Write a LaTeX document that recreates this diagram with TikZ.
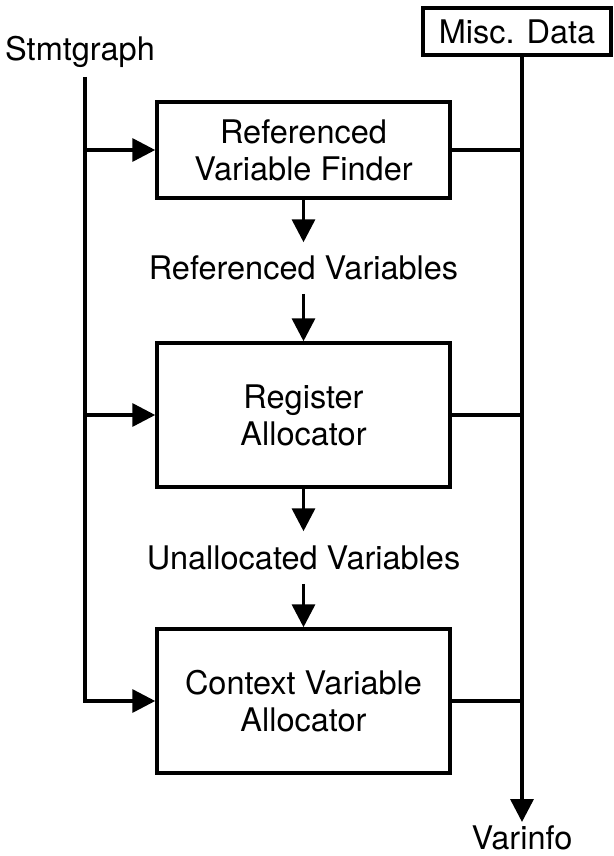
\documentclass[tikz,border=0pt]{standalone}
\usepackage{fontspec}
\setmainfont{TeX Gyre Heros}
\usetikzlibrary{arrows.meta}
\begin{document}
\begin{tikzpicture}[x=1pt,y=-1pt,
  every node/.style={font=\fontsize{32.5}{37}\selectfont},
  box/.style={draw, line width=3.5pt, minimum width=293pt, align=center, inner sep=0pt},
  lbl/.style={inner sep=0pt, text height=23pt, text depth=0pt},
  arr/.style={-{Triangle[length=23pt,width=23pt]}},
  line width=3.5pt]
\useasboundingbox (0,0) rectangle (613,856);
\node[box, minimum width=188pt, minimum height=47pt] (misc) at (517,31.5) {Misc. Data};
\node[lbl] (stmt) at (80,49) {Stmtgraph};
\node[box, minimum height=96pt] (b1) at (303.5,150) {Referenced\\Variable Finder};
\node[lbl, minimum height=48pt] (rv) at (303.5,268) {Referenced Variables};
\node[box, minimum height=144pt] (b2) at (303.5,415) {Register\\Allocator};
\node[lbl, minimum height=49pt] (uv) at (303.5,557.5) {Unallocated Variables};
\node[box, minimum height=144pt] (b3) at (303.5,701) {Context Variable\\Allocator};
\node[lbl] (vi) at (522,838) {Varinfo};
\coordinate (stop) at (85,77);
\coordinate (vtip) at (522,822);
% left feed
\draw[arr] (stop) |- (b3.west);
\draw[arr] (stop |- b1.west) -- (b1.west);
\draw[arr] (stop |- b2.west) -- (b2.west);
% main chain
\draw[arr] (b1.south) -- (rv.north);
\draw[arr] (rv.south) -- (b2.north);
\draw[arr] (b2.south) -- (uv.north);
\draw[arr] (uv.south) -- (b3.north);
% right collector
\draw[arr] (misc.south -| vtip) -- (vtip);
\draw (b1.east) -- (b1.east -| vtip);
\draw (b2.east) -- (b2.east -| vtip);
\draw (b3.east) -- (b3.east -| vtip);
\end{tikzpicture}
\end{document}
